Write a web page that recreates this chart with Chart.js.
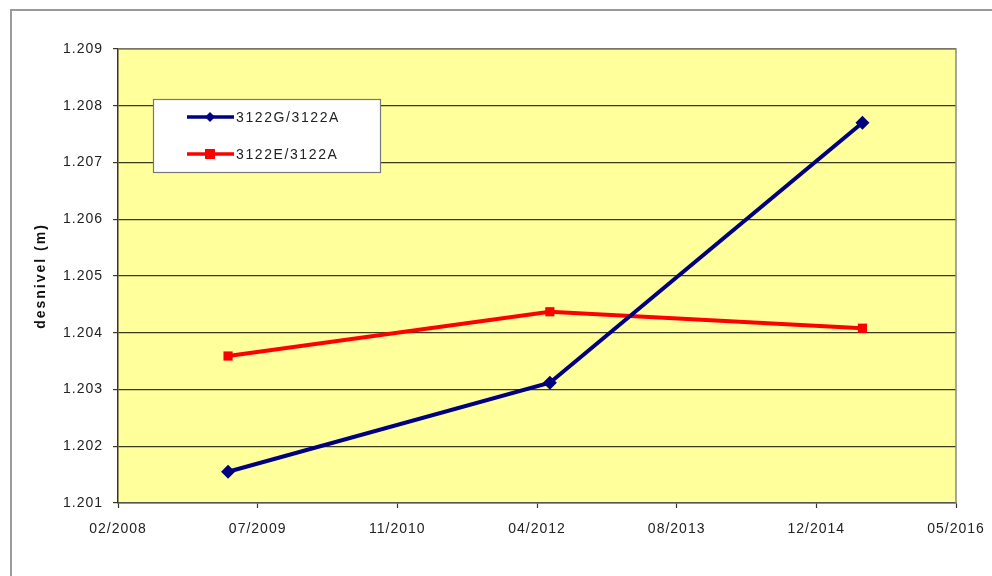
<!DOCTYPE html>
<html>
<head>
<meta charset="utf-8">
<script src="https://cdn.jsdelivr.net/npm/chart.js@4"></script>
<style>
  html, body { margin: 0; padding: 0; background: #fff; }
  #wrap { width: 992px; height: 576px; }
</style>
</head>
<body>
<div id="wrap"><canvas id="nivelChart" width="992" height="576"></canvas></div>
<script>
// survey dates and measured height differences
const surveyDates = ["2009-03-22", "2012-05-17", "2015-06-10"];
const seriesG = [1.20155, 1.20312, 1.20770];
const seriesE = [1.20359, 1.20437, 1.20408];
const seriesNames = ["3122G/3122A", "3122E/3122A"];
const xTickLabels = ["02/2008", "07/2009", "11/2010", "04/2012", "08/2013", "12/2014", "05/2016"];
const yTicks = [1.201, 1.202, 1.203, 1.204, 1.205, 1.206, 1.207, 1.208, 1.209];

// spreadsheet-style day numbers for the date axis
const X_MIN = 39500, X_STEP = 500;
function toSerial(iso) {
    let p = iso.split("-").map(Number);
    return Math.round((Date.UTC(p[0], p[1] - 1, p[2]) - Date.UTC(1899, 11, 30)) / 86400000);
}
const xs = surveyDates.map(toSerial);

const FONT = "'Liberation Sans', Arial, sans-serif";

const frame = {
    id: "frame",
    beforeDraw(chart) {
        let c = chart.ctx, a = chart.chartArea;
        c.save();
        c.fillStyle = "#ffff9c";
        c.fillRect(a.left, a.top, a.right - a.left, a.bottom - a.top);
        c.restore();
        // wide-set axis lettering
        c.letterSpacing = "1px";
    },
    afterDatasetsDraw(chart) {
        let c = chart.ctx, a = chart.chartArea;
        c.save();
        // outer chart border
        c.strokeStyle = "#9a9a9a";
        c.lineWidth = 2;
        c.strokeRect(11, 10, chart.width, chart.height);
        // plot border on top and right
        c.strokeStyle = "#8a8a7a";
        c.lineWidth = 1.5;
        c.beginPath();
        c.moveTo(a.left, a.top);
        c.lineTo(a.right, a.top);
        c.lineTo(a.right, a.bottom);
        c.stroke();

        // legend box
        let lx = 153, ly = 99, lw = 227, lh = 73;
        c.fillStyle = "#ffffff";
        c.fillRect(lx, ly, lw, lh);
        c.strokeStyle = "#777";
        c.lineWidth = 1.2;
        c.strokeRect(lx + 0.5, ly + 0.5, lw, lh);
        chart.data.datasets.forEach((ds, i) => {
            let y = ly + 18 + i * 37;
            c.strokeStyle = ds.borderColor;
            c.lineWidth = 3.5;
            c.beginPath();
            c.moveTo(187, y);
            c.lineTo(234, y);
            c.stroke();
            c.fillStyle = ds.borderColor;
            c.beginPath();
            if (ds.pointStyle === "rectRot") {
                c.moveTo(210, y - 5); c.lineTo(215, y); c.lineTo(210, y + 5); c.lineTo(205, y);
            } else {
                c.rect(205, y - 5, 10, 10);
            }
            c.fill();
            c.fillStyle = "#222";
            c.font = "14px " + FONT;
            c.letterSpacing = "1.6px";
            c.textBaseline = "middle";
            c.fillText(ds.label, 236, y + 1);
        });

        // y axis title
        c.save();
        c.translate(41, (a.top + a.bottom) / 2);
        c.rotate(-Math.PI / 2);
        c.font = "bold 14px " + FONT;
        c.letterSpacing = "2px";
        c.fillStyle = "#111";
        c.textAlign = "center";
        c.textBaseline = "middle";
        c.fillText("desnivel (m)", 0, 0);
        c.restore();
        c.restore();
    }
};

const ctx = document.getElementById("nivelChart").getContext("2d");
const nivelChart = new Chart(ctx, {
    type: "line",
    data: {
        datasets: [
            {
                label: seriesNames[0],
                data: xs.map((x, i) => ({ x: x, y: seriesG[i] })),
                borderColor: "#000080",
                backgroundColor: "#000080",
                borderWidth: 4,
                pointStyle: "rectRot",
                pointRadius: 7,
                pointBorderWidth: 0,
                tension: 0
            },
            {
                label: seriesNames[1],
                data: xs.map((x, i) => ({ x: x, y: seriesE[i] })),
                borderColor: "#ff0000",
                backgroundColor: "#ff0000",
                borderWidth: 4,
                pointStyle: "rect",
                pointRadius: 6.5,
                pointBorderWidth: 0,
                tension: 0
            }
        ]
    },
    options: {
        responsive: false,
        animation: false,
        layout: { padding: { top: 49, right: 36, left: 0, bottom: 0 } },
        plugins: { legend: { display: false }, tooltip: { enabled: false } },
        scales: {
            x: {
                type: "linear",
                min: X_MIN,
                max: X_MIN + X_STEP * (xTickLabels.length - 1),
                afterBuildTicks(axis) {
                    axis.ticks = xTickLabels.map((l, i) => ({ value: X_MIN + X_STEP * i }));
                },
                afterFit(axis) {
                    axis.height = 73;
                    axis.paddingLeft = 0;
                    axis.paddingRight = 0;
                },
                ticks: {
                    autoSkip: false,
                    maxRotation: 0,
                    padding: 13,
                    color: "#222",
                    font: { family: FONT, size: 14 },
                    callback: (v) => xTickLabels[Math.round((v - X_MIN) / X_STEP)]
                },
                grid: { drawOnChartArea: false, color: "#333", tickLength: 5, tickWidth: 1.2 },
                border: { color: "#555", width: 1.5 }
            },
            y: {
                min: yTicks[0],
                max: yTicks[yTicks.length - 1],
                afterBuildTicks(axis) {
                    axis.ticks = yTicks.map(v => ({ value: v }));
                },
                afterFit(axis) { axis.width = 118; },
                ticks: {
                    padding: 10,
                    color: "#222",
                    font: { family: FONT, size: 14 },
                    callback: (v) => v.toFixed(3)
                },
                grid: { color: "#3a3a20", lineWidth: 1.2, tickLength: 5 },
                border: { color: "#333", width: 1.5 }
            }
        }
    },
    plugins: [frame]
});
</script>
</body>
</html>
